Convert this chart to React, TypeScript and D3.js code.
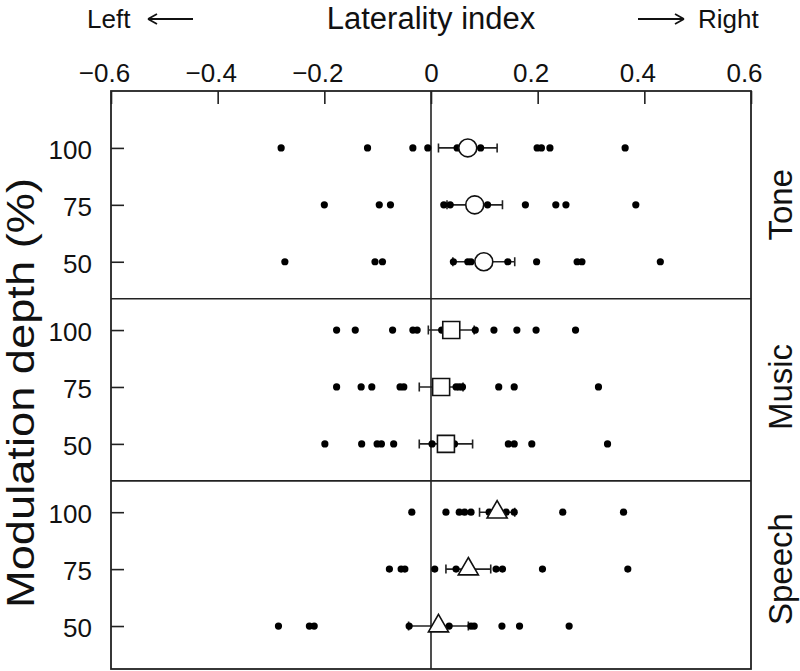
import * as d3 from "d3";
import React, { useEffect, useRef } from "react";

// categories and tick labels
const conditions = ["Tone", "Music", "Speech"];
const depths = ["100", "75", "50"];
const xTicks = [-0.6, -0.4, -0.2, 0, 0.2, 0.4, 0.6];

// group means and standard errors (rows: 100, 75, 50 %)
const toneMeans = [0.069, 0.082, 0.099];
const toneSems = [0.055, 0.052, 0.058];
const musicMeans = [0.038, 0.019, 0.028];
const musicSems = [0.043, 0.041, 0.05];
const speechMeans = [0.124, 0.07, 0.014];
const speechSems = [0.033, 0.042, 0.056];

// individual subjects
const tone100 = [-0.281, -0.119, -0.034, -0.006, 0.049, 0.093, 0.199, 0.207, 0.223, 0.364];
const tone75 = [-0.2, -0.097, -0.076, 0.024, 0.036, 0.106, 0.177, 0.234, 0.253, 0.384];
const tone50 = [-0.274, -0.105, -0.091, 0.042, 0.069, 0.075, 0.144, 0.198, 0.274, 0.283, 0.43];
const music100 = [-0.177, -0.142, -0.072, -0.034, -0.026, 0.02, 0.083, 0.118, 0.161, 0.197, 0.271];
const music75 = [-0.177, -0.131, -0.111, -0.058, -0.051, 0.047, 0.053, 0.059, 0.127, 0.156, 0.314];
const music50 = [-0.199, -0.13, -0.101, -0.093, -0.07, 0.002, 0.044, 0.145, 0.156, 0.189, 0.331];
const speech100 = [-0.036, 0.028, 0.053, 0.063, 0.075, 0.109, 0.141, 0.156, 0.247, 0.361];
const speech75 = [-0.078, -0.056, -0.049, 0.007, 0.047, 0.122, 0.134, 0.209, 0.369];
const speech50 = [-0.286, -0.228, -0.219, -0.041, 0.034, 0.075, 0.081, 0.133, 0.166, 0.259];

const FONT = "'Liberation Sans', Arial, Helvetica, sans-serif";

export default function App() {
  const ref = useRef<SVGSVGElement>(null);

  useEffect(() => {
    const svg = d3.select(ref.current);
    svg.selectAll("*").remove(); // clear before drawing

    const width = 800;
    const height = 671;
    const frame = { left: 111, right: 751, top: 91, bottom: 669 };

    const means = [toneMeans, musicMeans, speechMeans];
    const sems = [toneSems, musicSems, speechSems];
    const dots = [
      [tone100, tone75, tone50],
      [music100, music75, music50],
      [speech100, speech75, speech50],
    ];
    const shapes = [d3.symbolCircle, d3.symbolSquare, d3.symbolTriangle];
    const shapeSize = [254, 289, 175];

    // row position: three rows per condition, a small gap between conditions
    const gap = 3.2;
    const rows: any[] = [];
    conditions.forEach((c, ci) => {
      depths.forEach((dep, di) => {
        rows.push({
          cond: ci,
          depth: dep,
          pos: ci * gap + di,
          mean: means[ci][di],
          sem: sems[ci][di],
          dots: dots[ci][di],
        });
      });
    });

    const x = d3.scaleLinear().domain([-0.6, 0.6]).range([frame.left, frame.right]);
    const y = d3.scaleLinear().domain([-1, 9.155]).range([frame.top, frame.bottom]);

    svg.attr("width", width).attr("height", height).style("font-family", FONT);

    // zero line
    svg.append("line")
      .attr("x1", x(0)).attr("x2", x(0))
      .attr("y1", frame.top).attr("y2", frame.bottom)
      .attr("stroke", "#222").attr("stroke-width", 1.6);

    // dividers between conditions
    svg.append("g")
      .selectAll("line")
      .data([2.65, 2.65 + gap])
      .join("line")
      .attr("x1", frame.left).attr("x2", frame.right)
      .attr("y1", d => y(d)).attr("y2", d => y(d))
      .attr("stroke", "#222").attr("stroke-width", 1.6);

    // top axis
    const xAxis = svg.append("g")
      .attr("transform", `translate(0,${frame.top})`)
      .call(d3.axisTop(x)
        .tickValues(xTicks)
        .tickSizeInner(-13)
        .tickSizeOuter(0)
        .tickPadding(9)
        .tickFormat((d: any) => (d === 0 ? "0" : d3.format(".1f")(d))));
    xAxis.select(".domain").remove();
    xAxis.selectAll("line").attr("stroke", "#222").attr("stroke-width", 1.6);
    xAxis.selectAll("text")
      .attr("font-size", 26)
      .attr("font-family", FONT)
      .attr("fill", "#111")
      .attr("dx", (d: any) => (d === 0 ? 0 : -7));

    // left axis
    const yAxis = svg.append("g")
      .attr("transform", `translate(${frame.left},0)`)
      .call(d3.axisLeft(y)
        .tickValues(rows.map(r => r.pos))
        .tickSizeInner(-13)
        .tickSizeOuter(0)
        .tickPadding(19)
        .tickFormat((d: any) => rows.find(r => r.pos === d).depth));
    yAxis.select(".domain").remove();
    yAxis.selectAll("line").attr("stroke", "#222").attr("stroke-width", 1.6);
    yAxis.selectAll("text")
      .attr("font-size", 26)
      .attr("font-family", FONT)
      .attr("fill", "#111")
      .attr("dy", "0.4em");

    // frame
    svg.append("rect")
      .attr("x", frame.left).attr("y", frame.top)
      .attr("width", frame.right - frame.left)
      .attr("height", frame.bottom - frame.top)
      .attr("fill", "none").attr("stroke", "#222").attr("stroke-width", 1.8);

    // error bars
    const eb = svg.append("g").attr("stroke", "#222").attr("stroke-width", 1.6).attr("fill", "none");
    eb.selectAll("path")
      .data(rows)
      .join("path")
      .attr("d", r => {
        const lo = x(r.mean - r.sem), hi = x(r.mean + r.sem), yy = y(r.pos);
        return `M${lo},${yy - 4.5}V${yy + 4.5}M${lo},${yy}H${hi}M${hi},${yy - 4.5}V${yy + 4.5}`;
      });

    // individual subjects
    svg.append("g")
      .attr("fill", "#000")
      .selectAll("g")
      .data(rows)
      .join("g")
      .selectAll("circle")
      .data((r: any) => r.dots.map((v: number) => ({ v, pos: r.pos })))
      .join("circle")
      .attr("cx", (d: any) => x(d.v))
      .attr("cy", (d: any) => y(d.pos))
      .attr("r", 3.6);

    // group means
    svg.append("g")
      .selectAll("path")
      .data(rows)
      .join("path")
      .attr("transform", r => `translate(${x(r.mean)},${y(r.pos)})`)
      .attr("d", r => d3.symbol(shapes[r.cond], shapeSize[r.cond])())
      .attr("fill", "#fff")
      .attr("stroke", "#111")
      .attr("stroke-width", 1.6);

    // condition labels on the right
    svg.append("g")
      .selectAll("text")
      .data(conditions)
      .join("text")
      .attr("transform", (c, i) => `translate(792,${y(i * gap + 1)}) rotate(-90)`)
      .attr("text-anchor", "middle")
      .attr("font-size", 33)
      .attr("fill", "#111")
      .text(c => c);

    // axis titles
    svg.append("text")
      .attr("x", x(0)).attr("y", 29)
      .attr("text-anchor", "middle")
      .attr("font-size", 31)
      .attr("fill", "#111")
      .text("Laterality index");

    svg.append("text")
      .attr("transform", "translate(34,393) rotate(-90)")
      .attr("text-anchor", "middle")
      .attr("font-size", 39)
      .attr("textLength", 430)
      .attr("lengthAdjust", "spacingAndGlyphs")
      .attr("fill", "#111")
      .text("Modulation depth (%)");

    // direction hints
    svg.append("text")
      .attr("x", 87).attr("y", 28)
      .attr("font-size", 26).attr("fill", "#111")
      .text("Left");
    svg.append("text")
      .attr("x", 698).attr("y", 28)
      .attr("font-size", 26).attr("fill", "#111")
      .text("Right");

    const arrows = svg.append("g").attr("stroke", "#111").attr("stroke-width", 1.8).attr("fill", "none");
    arrows.append("path").attr("d", "M148,19H193M148,19L157,14M148,19L157,24");
    arrows.append("path").attr("d", "M638,19H684M684,19L675,14M684,19L675,24");
  }, []);

  return (
    <svg
      ref={ref}
      width={800}
      height={671}
      style={{ position: "absolute", left: 0, top: 0, background: "#fff" }}
    />
  );
}
